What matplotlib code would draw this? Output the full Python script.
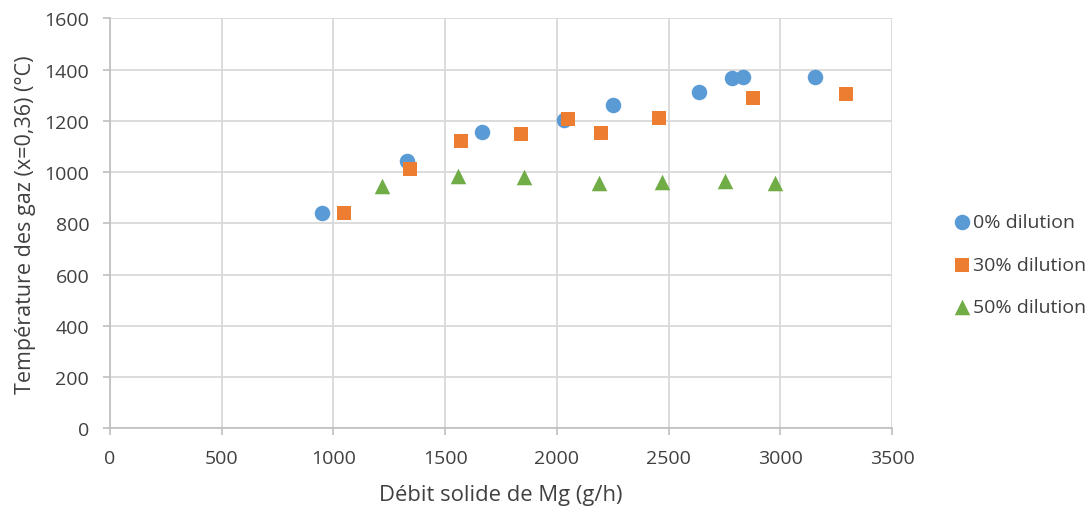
import matplotlib
matplotlib.use("Agg")
import matplotlib.pyplot as plt

x_0 = [948, 1328, 1664, 2034, 2250, 2635, 2786, 2835, 3157]
y_0 = [840, 1044, 1157, 1202, 1262, 1312, 1366, 1371, 1371]
x_30 = [1049, 1343, 1571, 1838, 2049, 2196, 2459, 2880, 3295]
y_30 = [839, 1013, 1120, 1149, 1209, 1152, 1210, 1289, 1306]
x_50 = [1219, 1556, 1853, 2187, 2469, 2752, 2975]
y_50 = [944, 985, 983, 958, 960, 965, 958]
labels = ["0% dilution", "30% dilution", "50% dilution"]
xlabel = "Débit solide de Mg (g/h)"
ylabel = "Température des gaz (x=0,36) (°C)"

plt.rcParams['font.family'] = ['Open Sans', 'DejaVu Sans']
txt = '#404040'

fig = plt.figure(figsize=(10.92, 5.10), dpi=100)
ax = fig.add_axes([0.1007, 0.158, 0.7161, 0.8040])

ax.scatter(x_0, y_0, marker='o', s=125, color='#5B9BD5', label=labels[0], zorder=3, linewidths=0)
ax.scatter(x_30, y_30, marker='s', s=110, color='#ED7D31', label=labels[1], zorder=3, linewidths=0)
ax.scatter(x_50, y_50, marker='^', s=125, color='#70AD47', label=labels[2], zorder=3, linewidths=0)

ax.set_xlim(0, 3500)
ax.set_ylim(0, 1600)
ax.set_xticks(range(0, 3501, 500))
ax.set_yticks(range(0, 1601, 200))
ax.grid(True, color='#D9D9D9', linewidth=1.3)
ax.set_axisbelow(True)
for s in ['top', 'right']:
    ax.spines[s].set_visible(False)
for s in ['left', 'bottom']:
    ax.spines[s].set_color('#BFBFBF')
    ax.spines[s].set_linewidth(1.2)
ax.tick_params(axis='both', colors='#BFBFBF', labelcolor=txt, labelsize=14, length=5, width=1.2, direction='out')
ax.tick_params(axis='y', pad=10)
ax.tick_params(axis='x', pad=10)
ax.set_xlabel(xlabel, fontsize=15.8, color=txt, labelpad=12)
ax.set_ylabel(ylabel, fontsize=15.5, color=txt, labelpad=6)

leg = ax.legend(loc='center left', bbox_to_anchor=(1.077, 0.399), frameon=False,
                fontsize=14, labelspacing=1.26, handletextpad=0.07, handlelength=1.0,
                borderaxespad=0, borderpad=0)
for t in leg.get_texts():
    t.set_color(txt)

fig.savefig('out.png', dpi=100)
